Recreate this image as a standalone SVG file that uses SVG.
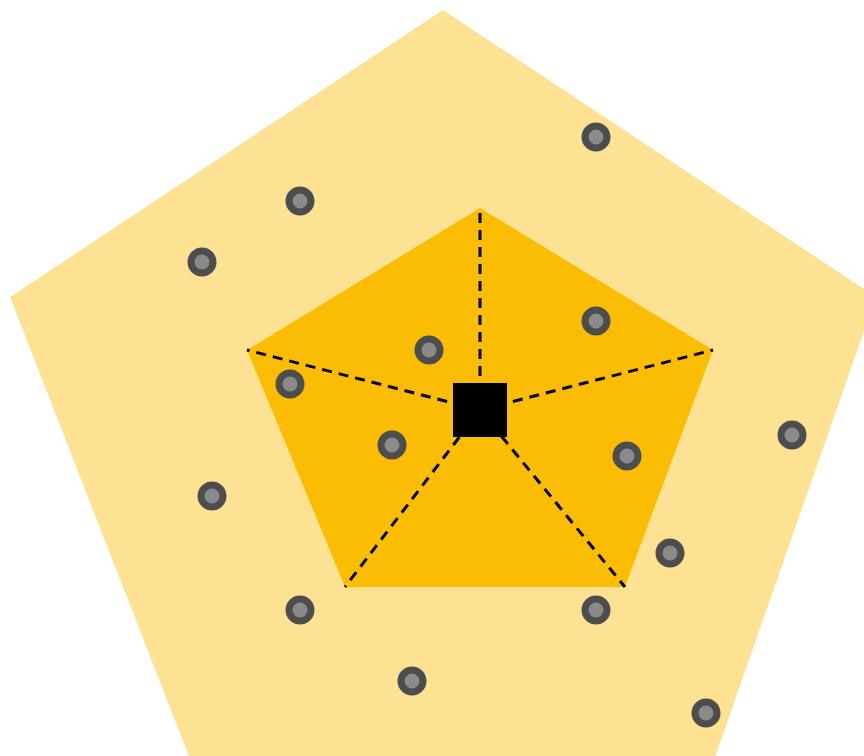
<svg xmlns="http://www.w3.org/2000/svg" width="864" height="756" viewBox="0 0 864 756">
<style>
.dot{fill:#8a8a8a;stroke:#4d4d4d;stroke-width:7}
.dash{stroke:#000;stroke-width:3;stroke-dasharray:10 7;fill:none}
</style>
<rect width="864" height="756" fill="#ffffff"/>
<g id="outer"><polygon points="443,10 876,297 700,800 206,800 10,297" fill="#fde293"/></g>
<g id="inner"><polygon points="480,208 713,350 625,587 345,587 247,350" fill="#fbbc04"/></g>
<g id="connectors">
<line class="dash" x1="480" y1="410" x2="480" y2="208"/>
<line class="dash" x1="480" y1="410" x2="713" y2="350"/>
<line class="dash" x1="480" y1="410" x2="625" y2="587"/>
<line class="dash" x1="480" y1="410" x2="345" y2="587"/>
<line class="dash" x1="480" y1="410" x2="247" y2="350"/>
</g>
<g id="center"><rect x="453" y="383" width="54" height="54" fill="#000"/></g>
<g id="dots">
<circle class="dot" cx="596" cy="137" r="11"/>
<circle class="dot" cx="300" cy="201" r="11"/>
<circle class="dot" cx="202" cy="262" r="11"/>
<circle class="dot" cx="596" cy="321" r="11"/>
<circle class="dot" cx="429" cy="350" r="11"/>
<circle class="dot" cx="290" cy="384" r="11"/>
<circle class="dot" cx="392" cy="445" r="11"/>
<circle class="dot" cx="627" cy="456" r="11"/>
<circle class="dot" cx="792" cy="435" r="11"/>
<circle class="dot" cx="212" cy="496" r="11"/>
<circle class="dot" cx="670" cy="553" r="11"/>
<circle class="dot" cx="300" cy="610" r="11"/>
<circle class="dot" cx="596" cy="610" r="11"/>
<circle class="dot" cx="412" cy="681" r="11"/>
<circle class="dot" cx="706" cy="713" r="11"/>
</g>
</svg>
